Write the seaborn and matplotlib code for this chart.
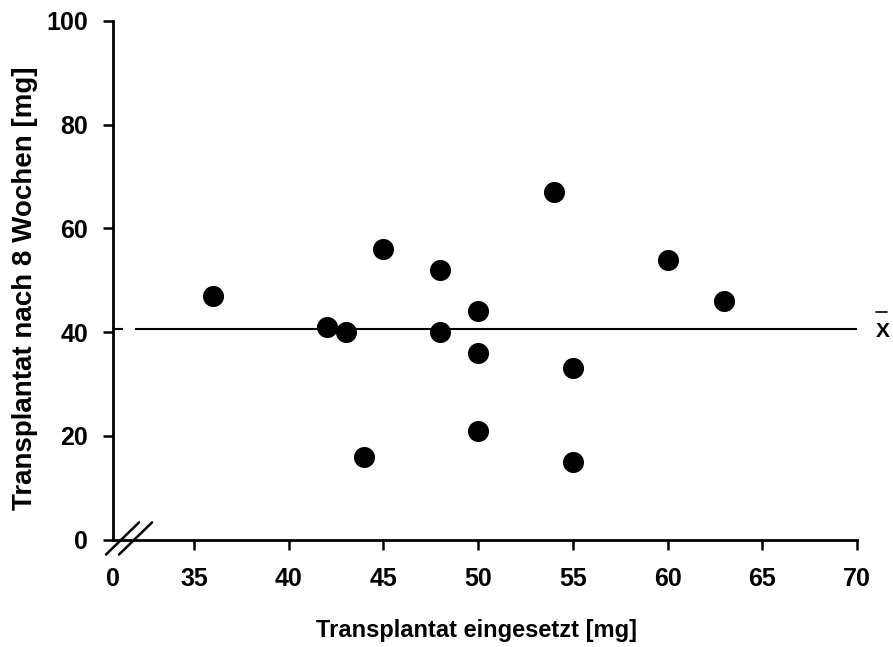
import matplotlib
matplotlib.use("Agg")
import matplotlib.pyplot as plt
import matplotlib.transforms as mtransforms
import seaborn as sns
import numpy as np
import pandas as pd

# Graft weight at implantation vs. after 8 weeks
eingesetzt = [36, 42, 43, 44, 45, 48, 48, 50, 50, 50, 54, 55, 55, 60, 63]
nach_8_wochen = [47, 41, 40, 16, 56, 52, 40, 44, 36, 21, 67, 33, 15, 54, 46]

x_ticks = [35, 40, 45, 50, 55, 60, 65, 70]
x_tick_labels = ["35", "40", "45", "50", "55", "60", "65", "70"]
y_ticks = [0, 20, 40, 60, 80, 100]

df = pd.DataFrame({"eingesetzt": eingesetzt, "nach": nach_8_wochen})
mean_y = float(np.mean(nach_8_wochen))

sns.set_theme(style="white")
plt.rcParams["font.family"] = ["Liberation Sans", "DejaVu Sans"]
plt.rcParams["font.weight"] = "bold"
plt.rcParams["text.color"] = "black"
plt.rcParams["axes.labelcolor"] = "black"
plt.rcParams["xtick.color"] = "black"
plt.rcParams["ytick.color"] = "black"

fig = plt.figure(figsize=(8.93, 6.47), dpi=100)
ax = fig.add_axes([113 / 893, 1 - 539.5 / 647, 744 / 893, (539.5 - 21) / 647])

# broken x axis: the origin stands for 0, the scale resumes at 35
x_origin = 35 - 81 / 18.94
ax.set_xlim(x_origin, 70)
ax.set_ylim(0, 100)

# mean line with a small gap near the axis break
gap_a = x_origin + 10 / 18.94
gap_b = x_origin + 22 / 18.94
ax.hlines(mean_y, x_origin, gap_a, color="black", lw=1.5, zorder=2)
ax.hlines(mean_y, gap_b, 70, color="black", lw=1.5, zorder=2)

sns.scatterplot(data=df, x="eingesetzt", y="nach", ax=ax, s=230,
                color="black", edgecolor="black", linewidth=0, zorder=3,
                clip_on=False)

ax.set_xticks([x_origin] + x_ticks)
ax.set_xticklabels(["0"] + x_tick_labels)
ax.set_yticks(y_ticks)
ax.tick_params(axis="both", direction="out", length=7, width=1.8,
               labelsize=18, color="black", labelcolor="black",
               bottom=True, left=True)
ax.tick_params(axis="x", pad=13)
ax.tick_params(axis="y", pad=11)
for lab in ax.get_xticklabels() + ax.get_yticklabels():
    lab.set_fontweight("bold")
ax.xaxis.get_major_ticks()[0].tick1line.set_visible(False)

for side in ("top", "right"):
    ax.spines[side].set_visible(False)
for side in ("left", "bottom"):
    ax.spines[side].set_linewidth(2)
    ax.spines[side].set_color("black")

# axis-break marks
for dx in (0.0, 0.0175):
    ax.plot([-0.0094 + dx, 0.035 + dx], [-0.029, 0.033], transform=ax.transAxes,
            color="black", lw=1.8, clip_on=False, zorder=4)

ax.set_xlabel("Transplantat eingesetzt [mg]", fontsize=17, fontweight="bold")
ax.xaxis.set_label_coords((477 - 113) / 744, (539.5 - 619) / 519)
ax.set_ylabel("Transplantat nach 8 Wochen [mg]", fontsize=20, fontweight="bold")
ax.yaxis.set_label_coords((38 - 113) / 744, (539.5 - 288) / 519)

# mean label: bold X with an overline, placed at the mean line's height
base_tr = ax.get_yaxis_transform()
letter_tr = mtransforms.offset_copy(base_tr, fig=fig, y=-7.5, units="dots")
ax.text(1.035, mean_y, "X", transform=letter_tr, fontsize=15,
        fontweight="bold", ha="center", va="baseline")
bar_tr = mtransforms.offset_copy(base_tr, fig=fig, y=17, units="dots")
ax.plot([1.035 - 7.5 / 744, 1.035 + 4 / 744], [mean_y, mean_y],
        transform=bar_tr, color="black", lw=1.2, clip_on=False)

fig.savefig("out.png", dpi=100)
